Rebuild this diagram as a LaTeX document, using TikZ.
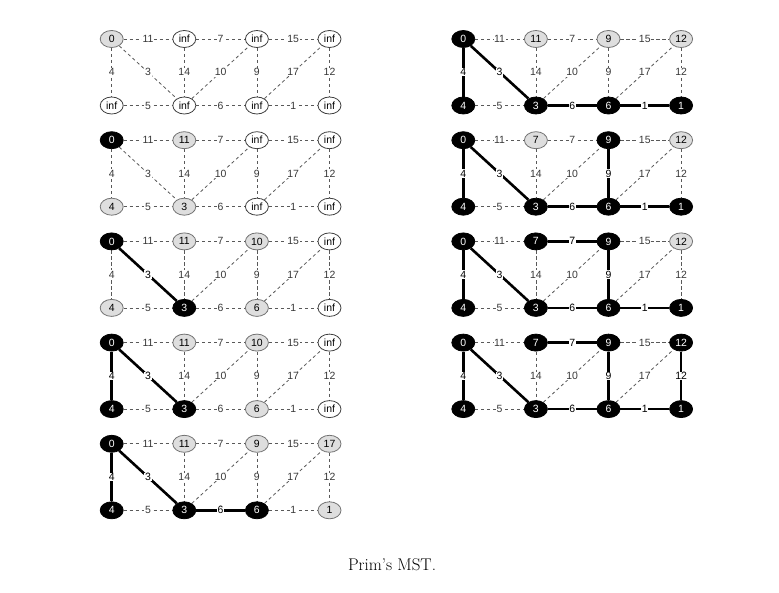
\documentclass[tikz,border=0pt]{standalone}
\usepackage{fontspec}
\newfontfamily\labfont{Liberation Sans}
\usetikzlibrary{shapes.geometric}
\pgfdeclarelayer{background}
\pgfsetlayers{background,main}
\tikzset{
 nd/.style={ellipse, draw, line width=0.8bp, minimum width=23bp, minimum height=17bp, inner sep=0pt, font=\labfont\fontsize{10.5}{11}\selectfont},
 wht/.style={nd, fill=white, draw=black!75},
 gry/.style={nd, fill=black!13, draw=black!55},
 blk/.style={nd, fill=black, draw=black, text=white},
 dedge/.style={draw=black!65, line width=0.8bp, dash pattern=on 3.2bp off 2.8bp},
 tedge/.style={draw=black, line width=2.6bp},
 wl/.style={fill=white, inner sep=0.6bp, text=black!78, font=\labfont\fontsize{10.5}{11}\selectfont},
 twl/.style={wl, text=black},
}
\newcommand\primgraph[5]{%
 \coordinate (#1pa) at (#2,#3);
 \coordinate (#1pb) at (#2+72.6,#3);
 \coordinate (#1pc) at (#2+145.2,#3);
 \coordinate (#1pd) at (#2+217.8,#3);
 \coordinate (#1pe) at (#2,#3+66.5);
 \coordinate (#1pf) at (#2+72.6,#3+66.5);
 \coordinate (#1pg) at (#2+145.2,#3+66.5);
 \coordinate (#1ph) at (#2+217.8,#3+66.5);
 \foreach \n/\s/\l in {#4}{\node[\s] (#1\n) at (#1p\n) {\l};}
 \begin{pgfonlayer}{background}
 \foreach \u/\v/\w in {a/b/11,b/c/7,c/d/15,e/f/5,f/g/6,g/h/1,a/e/4,b/f/14,c/g/9,d/h/12,a/f/3,f/c/10,g/d/17}{\draw[dedge] (#1\u) -- node[wl]{\w} (#1\v);}
 \foreach \u/\v/\w in {#5}{\draw[tedge] (#1\u) -- node[twl]{\w} (#1\v);}
 \end{pgfonlayer}
}
\begin{document}
\begin{tikzpicture}[x=1bp,y=-1bp]
\useasboundingbox (0,0) rectangle (779,593);
\begin{pgfonlayer}{background}
\fill[white] (0,0) rectangle (779,593);
\end{pgfonlayer}
% left column
\primgraph{L1}{111.7}{39}{a/gry/0,b/wht/inf,c/wht/inf,d/wht/inf,e/wht/inf,f/wht/inf,g/wht/inf,h/wht/inf}{}
\primgraph{L2}{111.7}{140.2}{a/blk/0,b/gry/11,c/wht/inf,d/wht/inf,e/gry/4,f/gry/3,g/wht/inf,h/wht/inf}{}
\primgraph{L3}{111.7}{241.4}{a/blk/0,b/gry/11,c/gry/10,d/wht/inf,e/gry/4,f/blk/3,g/gry/6,h/wht/inf}{a/f/3}
\primgraph{L4}{111.7}{342.6}{a/blk/0,b/gry/11,c/gry/10,d/wht/inf,e/blk/4,f/blk/3,g/gry/6,h/wht/inf}{a/f/3,a/e/4}
\primgraph{L5}{111.7}{443.8}{a/blk/0,b/gry/11,c/gry/9,d/gry/17,e/blk/4,f/blk/3,g/blk/6,h/gry/1}{a/f/3,a/e/4,f/g/6}
% right column
\primgraph{R1}{463.3}{39}{a/blk/0,b/gry/11,c/gry/9,d/gry/12,e/blk/4,f/blk/3,g/blk/6,h/blk/1}{a/f/3,a/e/4,f/g/6,g/h/1}
\primgraph{R2}{463.3}{140.2}{a/blk/0,b/gry/7,c/blk/9,d/gry/12,e/blk/4,f/blk/3,g/blk/6,h/blk/1}{a/f/3,a/e/4,f/g/6,g/h/1,c/g/9}
\primgraph{R3}{463.3}{241.4}{a/blk/0,b/blk/7,c/blk/9,d/gry/12,e/blk/4,f/blk/3,g/blk/6,h/blk/1}{a/f/3,a/e/4,f/g/6,g/h/1,c/g/9,b/c/7}
\primgraph{R4}{463.3}{342.6}{a/blk/0,b/blk/7,c/blk/9,d/blk/12,e/blk/4,f/blk/3,g/blk/6,h/blk/1}{a/f/3,a/e/4,f/g/6,g/h/1,c/g/9,b/c/7,d/h/12}
\node[font=\fontsize{17}{20}\selectfont] (cap) at (392,565) {Prim's MST.};
\end{tikzpicture}
\end{document}
